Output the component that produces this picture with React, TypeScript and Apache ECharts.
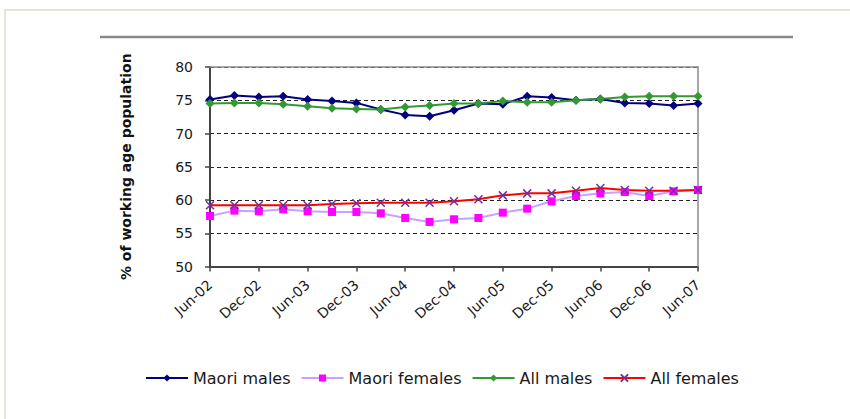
import React, { useEffect, useRef } from "react";
import * as echarts from "echarts";

// Quarterly observations, Jun-02 to Jun-07
const quarters = [
  "Jun-02", "Sep-02", "Dec-02", "Mar-03", "Jun-03", "Sep-03", "Dec-03",
  "Mar-04", "Jun-04", "Sep-04", "Dec-04", "Mar-05", "Jun-05", "Sep-05",
  "Dec-05", "Mar-06", "Jun-06", "Sep-06", "Dec-06", "Mar-07", "Jun-07",
];

const maoriMales = [
  75.1, 75.7, 75.5, 75.6, 75.1, 74.9, 74.6, 73.6, 72.8, 72.6, 73.5,
  74.5, 74.4, 75.6, 75.4, 75.0, 75.2, 74.6, 74.5, 74.2, 74.5,
];
const maoriFemales = [
  57.6, 58.4, 58.3, 58.6, 58.3, 58.2, 58.2, 58.0, 57.3, 56.7, 57.1,
  57.3, 58.1, 58.7, 59.8, 60.6, 61.0, 61.2, 60.6, 61.3, 61.5,
];
const allMales = [
  74.5, 74.6, 74.6, 74.4, 74.1, 73.8, 73.7, 73.6, 74.0, 74.2, 74.5,
  74.5, 74.9, 74.7, 74.7, 75.0, 75.2, 75.5, 75.6, 75.6, 75.6,
];
const allFemales = [
  59.2, 59.2, 59.2, 59.2, 59.2, 59.4, 59.5, 59.6, 59.6, 59.6, 59.8,
  60.1, 60.7, 61.0, 61.0, 61.4, 61.8, 61.5, 61.4, 61.4, 61.5,
];

const yMin = 50;
const yMax = 80;
const yStep = 5;

const FONT = "DejaVu Sans";
const CROSS = "path://M0,0 L10,10 M10,0 L0,10";

export default function App() {
  const ref = useRef<HTMLDivElement>(null);

  useEffect(() => {
    if (!ref.current) return;
    const chart = echarts.init(ref.current, undefined, { renderer: "svg" });

    const lineSeries = (
      name: string,
      data: number[],
      lineColor: string,
      symbol: string,
      markColor: string,
      size: number,
      extra: any = {}
    ) => ({
      name,
      type: "line",
      data,
      symbol,
      symbolSize: size,
      showSymbol: true,
      lineStyle: { color: lineColor, width: 2 },
      itemStyle: { color: markColor, ...extra },
      emphasis: { disabled: true },
    });

    chart.setOption({
      animation: false,
      textStyle: { fontFamily: FONT },
      grid: { left: 210, top: 67, width: 488, height: 199.5, containLabel: false },
      legend: {
        left: 140,
        top: 365,
        itemWidth: 42,
        itemHeight: 9,
        itemGap: 10,
        textStyle: { fontSize: 16, color: "#1a1a1a", fontFamily: FONT },
        data: ["Maori males", "Maori females", "All males", "All females"],
      },
      xAxis: [
        {
          type: "category",
          data: quarters,
          boundaryGap: false,
          axisLine: { lineStyle: { color: "#444", width: 2 } },
          axisTick: { interval: 1, length: 5, lineStyle: { color: "#444", width: 1.5 } },
          axisLabel: {
            interval: 1,
            rotate: 42,
            margin: 16,
            fontSize: 14,
            color: "#1a1a1a",
            fontFamily: FONT,
          },
          splitLine: { show: false },
        },
        {
          type: "category",
          data: quarters,
          position: "top",
          boundaryGap: false,
          axisLine: { lineStyle: { color: "#8a8a8a", width: 1.5 } },
          axisTick: { show: false },
          axisLabel: { show: false },
          z: 3,
        },
      ],
      yAxis: [
        {
          type: "value",
          min: yMin,
          max: yMax,
          interval: yStep,
          name: "% of working age population",
          nameLocation: "middle",
          nameGap: 77,
          nameTextStyle: { fontSize: 14, fontWeight: "bold", color: "#111", fontFamily: FONT },
          axisLine: { show: true, lineStyle: { color: "#444", width: 2 } },
          axisTick: { show: true, length: 5, lineStyle: { color: "#444", width: 1.5 } },
          axisLabel: { fontSize: 14, color: "#1a1a1a", margin: 17, fontFamily: FONT },
          splitLine: { lineStyle: { color: "#222", type: [4, 3], width: 1 } },
        },
        {
          type: "value",
          min: yMin,
          max: yMax,
          interval: yStep,
          position: "right",
          axisLine: { show: true, lineStyle: { color: "#8a8a8a", width: 1.5 } },
          axisTick: { show: false },
          axisLabel: { show: false },
          splitLine: { show: false },
          z: 3,
        },
      ],
      graphic: [
        {
          type: "rect",
          shape: { x: 5, y: 10, width: 900, height: 500 },
          style: { fill: "none", stroke: "#e8e5d8", lineWidth: 2 },
          silent: true,
        },
        {
          type: "line",
          shape: { x1: 100, y1: 37, x2: 793, y2: 37 },
          style: { stroke: "#8a8a8a", lineWidth: 2.5 },
          silent: true,
        },
      ],
      series: [
        lineSeries("Maori males", maoriMales, "#000080", "diamond", "#000080", 9),
        lineSeries("Maori females", maoriFemales, "#c9a0ff", "rect", "#ff00ff", 8),
        lineSeries("All males", allMales, "#339933", "diamond", "#339933", 9),
        lineSeries("All females", allFemales, "#ff0000", CROSS, "#7030a0", 8, {
          borderColor: "#7030a0",
          borderWidth: 1.5,
        }),
      ],
    });

    return () => chart.dispose();
  }, []);

  return (
    <div
      ref={ref}
      style={{ position: "fixed", left: 0, top: 0, width: 850, height: 419, background: "#fff" }}
    />
  );
}
